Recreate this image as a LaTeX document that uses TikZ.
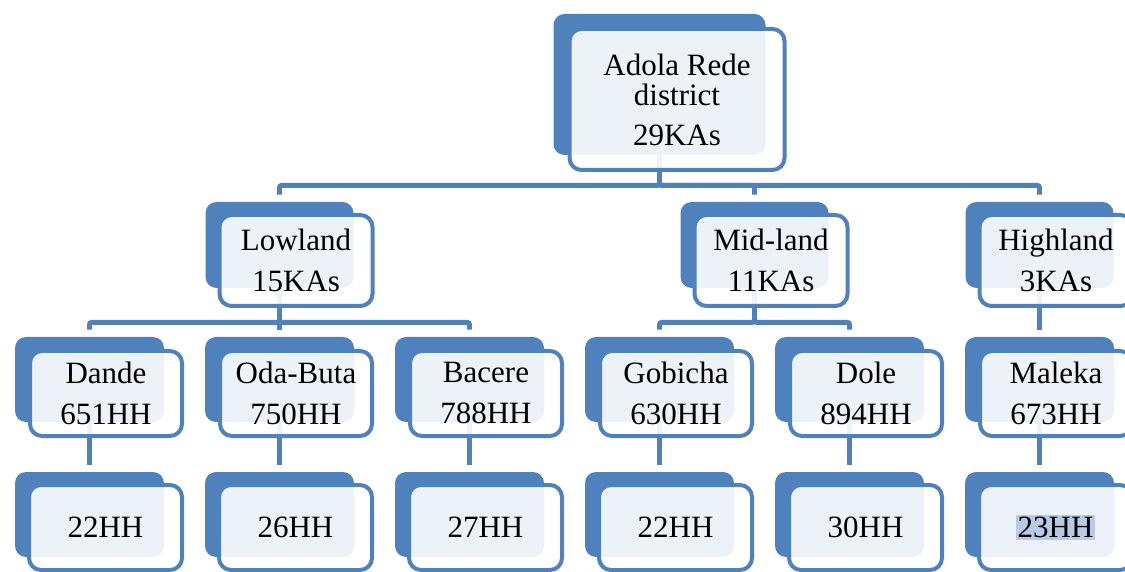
\documentclass[tikz,border=0pt]{standalone}
\usepackage{fontspec}
\setmainfont{Liberation Serif}
\definecolor{boxblue}{HTML}{4F81BD}
\definecolor{markblue}{HTML}{B7CAE6}
\newcommand{\marked}[1]{{\setlength{\fboxsep}{1pt}\colorbox{markblue}{#1}}}

\begin{document}
\begin{tikzpicture}[x=0.5pt, y=-0.5pt]
      \tikzset{
  back box/.style={
    rectangle,
    fill=boxblue,
    rounded corners=5.5pt,
    inner sep=0pt,
    minimum width=74.5pt,
    minimum height=42.5pt
  },
  front box/.style={
    rectangle,
    draw=boxblue,
    line width=2pt,
    rounded corners=6pt,
    fill=white,
    fill opacity=.9, %<- lets the links show through
    text opacity=1,
    inner sep=0pt,
    align=center,
    minimum width=76pt,
    minimum height=42.5pt,
    font=\fontsize{15.5}{20.5}\selectfont
  },
  link/.style={
    draw=boxblue,
    line width=2.4pt,
    rounded corners=1pt,
    shorten >=3.5pt
  }
}

\useasboundingbox (0,0) rectangle (1125,572);
\clip (0,0) rectangle (1125,572);

% back boxes
\node [back box, minimum width=106pt, minimum height=70.5pt] (back-top) at (659.5,84.5) {};

\foreach \m/\x in {low/279.5, mid/754.5, high/1039.5}
  \node [back box, minimum width=74pt, minimum height=43pt] (back-\m) at (\x,245) {};

\foreach \m [count=\i] in {dande,oda,bacere,gobicha,dole,maleka} {
  \node [back box] (back-\m) at (190*\i-100.5,379.5) {};
  \node [back box] (back-\m-s) at (190*\i-100.5,514.5) {};
}

% links
\foreach \m in {low,mid,high}
  \draw [link] (back-top.south) -- ++(0,30) -| (back-\m.north);

\foreach \m in {dande,oda,bacere}
  \draw [link] (back-low.south) -- ++(0,34) -| (back-\m.north);

\foreach \m in {gobicha,dole}
  \draw [link] (back-mid.south) -- ++(0,34) -| (back-\m.north);

\draw [link] (back-high.south) -- (back-maleka.north);

\foreach \m in {dande,oda,bacere,gobicha,dole,maleka}
  \draw [link] (back-\m.south) -- (back-\m-s.north);

% front boxes
\node [front box, minimum width=107.5pt, minimum height=70.5pt,
  font=\fontsize{15.5}{15}\selectfont] (front-top)
  at ([shift={(17.5,15)}]back-top.center) {Adola Rede\\district\\[5pt]29KAs};

\foreach \m/\a/\b in {low/Lowland/15KAs, mid/Mid-land/11KAs, high/Highland/3KAs}
  \node [front box, minimum width=76.5pt, minimum height=45.5pt] (front-\m)
    at ([shift={(16.5,15.5)}]back-\m.center) {\a\\\b};

\foreach \m/\a/\b in {dande/Dande/651HH, oda/Oda-Buta/750HH, bacere/Bacere/788HH,
                      gobicha/Gobicha/630HH, dole/Dole/894HH, maleka/Maleka/673HH}
  \node [front box] (front-\m) at ([shift={(16.5,14)}]back-\m.center) {\a\\\b};

\foreach \m/\a in {dande/22HH, oda/26HH, bacere/27HH, gobicha/22HH, dole/30HH, maleka/\marked{23HH}}
  \node [front box, minimum width=76.5pt] (front-\m-s) at ([shift={(16,13)}]back-\m-s.center) {\a};
      \end{tikzpicture}
\end{document}
